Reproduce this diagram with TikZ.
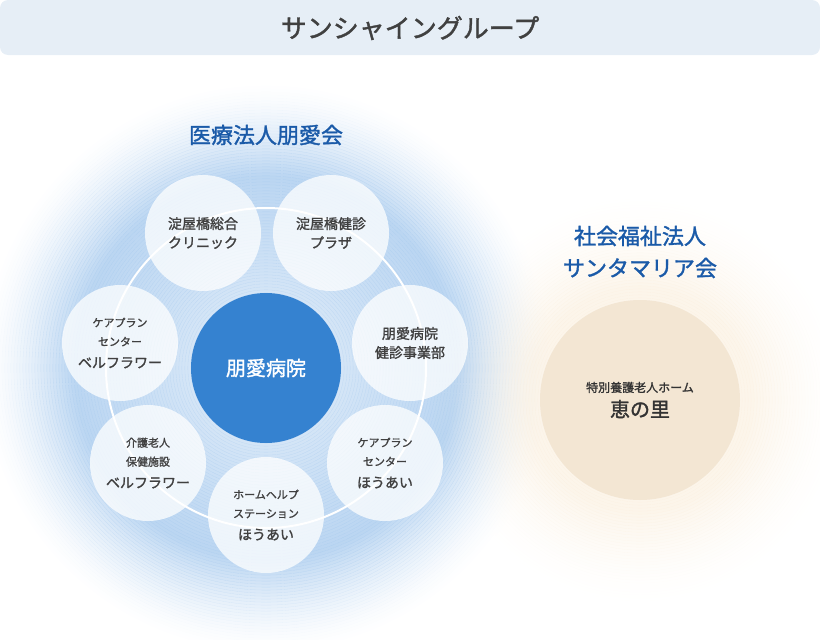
\documentclass[tikz,border=0pt]{standalone}
\usepackage{fontspec}
\setmainfont{Noto Sans CJK JP}
\newfontfamily\jpb{Noto Sans CJK JP}[FakeBold=1.5]
\newcommand{\smt}{\fontsize{11}{15}\selectfont}
\newcommand{\bgt}{\fontsize{14}{18}\selectfont}
\begin{document}
\begin{tikzpicture}[x=1pt,y=-1pt,
  sat/.style={circle,minimum size=116pt,fill=white,fill opacity=0.75,text opacity=1,align=center,font=\fontsize{14}{19}\selectfont\jpb,text=black!75,inner sep=0pt},
  ttl/.style={align=center,font=\fontsize{22}{32}\selectfont\jpb}]
\useasboundingbox (0,0) rectangle (820,640);
\definecolor{bnr}{HTML}{E6EEF6}
\definecolor{ctr}{HTML}{3582D0}
\definecolor{tan}{HTML}{F3E6D3}
\definecolor{ttlc}{HTML}{1A5AA8}
\definecolor{glowb}{HTML}{A9CBEE}
\definecolor{glowt}{HTML}{FAEEDC}
\fill[bnr,rounded corners=8pt] (0,0) rectangle (820,55);
\node (banner) at (410,28) {\fontsize{26}{30}\selectfont\jpb\color{black!75}サンシャイングループ};
% blue glow
\foreach \r in {0,3,...,282}{
  \pgfmathsetmacro{\op}{\r<190 ? 0.3+0.5*\r/190 : 0.8*(1-(\r-190)/95)^1.6}
  \fill[glowb,opacity=\op,even odd rule] (266,368) circle (\r+3.3) circle (\r);
}
% tan glow
\foreach \r in {0,3,...,207}{
  \pgfmathsetmacro{\op}{\r<110 ? 0.6 : 0.6*(1-(\r-110)/100)^1.8}
  \fill[glowt,opacity=\op,even odd rule] (640,400) circle (\r+3.3) circle (\r);
}
\node[ttl,text=ttlc] (t1) at (266,135) {医療法人朋愛会};
\node[ttl,text=ttlc] (t2) at (640,252) {社会福祉法人\\サンタマリア会};
\draw[white,line width=2pt] (266,368) circle (160);
\node[circle,fill=ctr,minimum size=150pt,text=white,font=\fontsize{20}{22}\selectfont\jpb] (c) at (266,368) {朋愛病院};
\node[sat] (s1) at (203,233) {淀屋橋総合\\クリニック};
\node[sat] (s2) at (331,233) {淀屋橋健診\\プラザ};
\node[sat] (s3) at (410,343) {朋愛病院\\健診事業部};
\node[sat] (s4) at (385,463) {\smt ケアプラン\\\smt センター\\[3pt]\bgt ほうあい};
\node[sat] (s5) at (266,515) {\smt ホームヘルプ\\\smt ステーション\\[3pt]\bgt ほうあい};
\node[sat] (s6) at (148,463) {\smt 介護老人\\\smt 保健施設\\[3pt]\bgt ベルフラワー};
\node[sat] (s7) at (120,343) {\smt ケアプラン\\\smt センター\\[3pt]\bgt ベルフラワー};
\node[circle,fill=tan,minimum size=200pt,align=center,text=black!80,font=\jpb] (r) at (640,400)
  {\fontsize{12}{15}\selectfont 特別養護老人ホーム\\[6pt]\fontsize{20}{22}\selectfont 恵の里};
\end{tikzpicture}
\end{document}
